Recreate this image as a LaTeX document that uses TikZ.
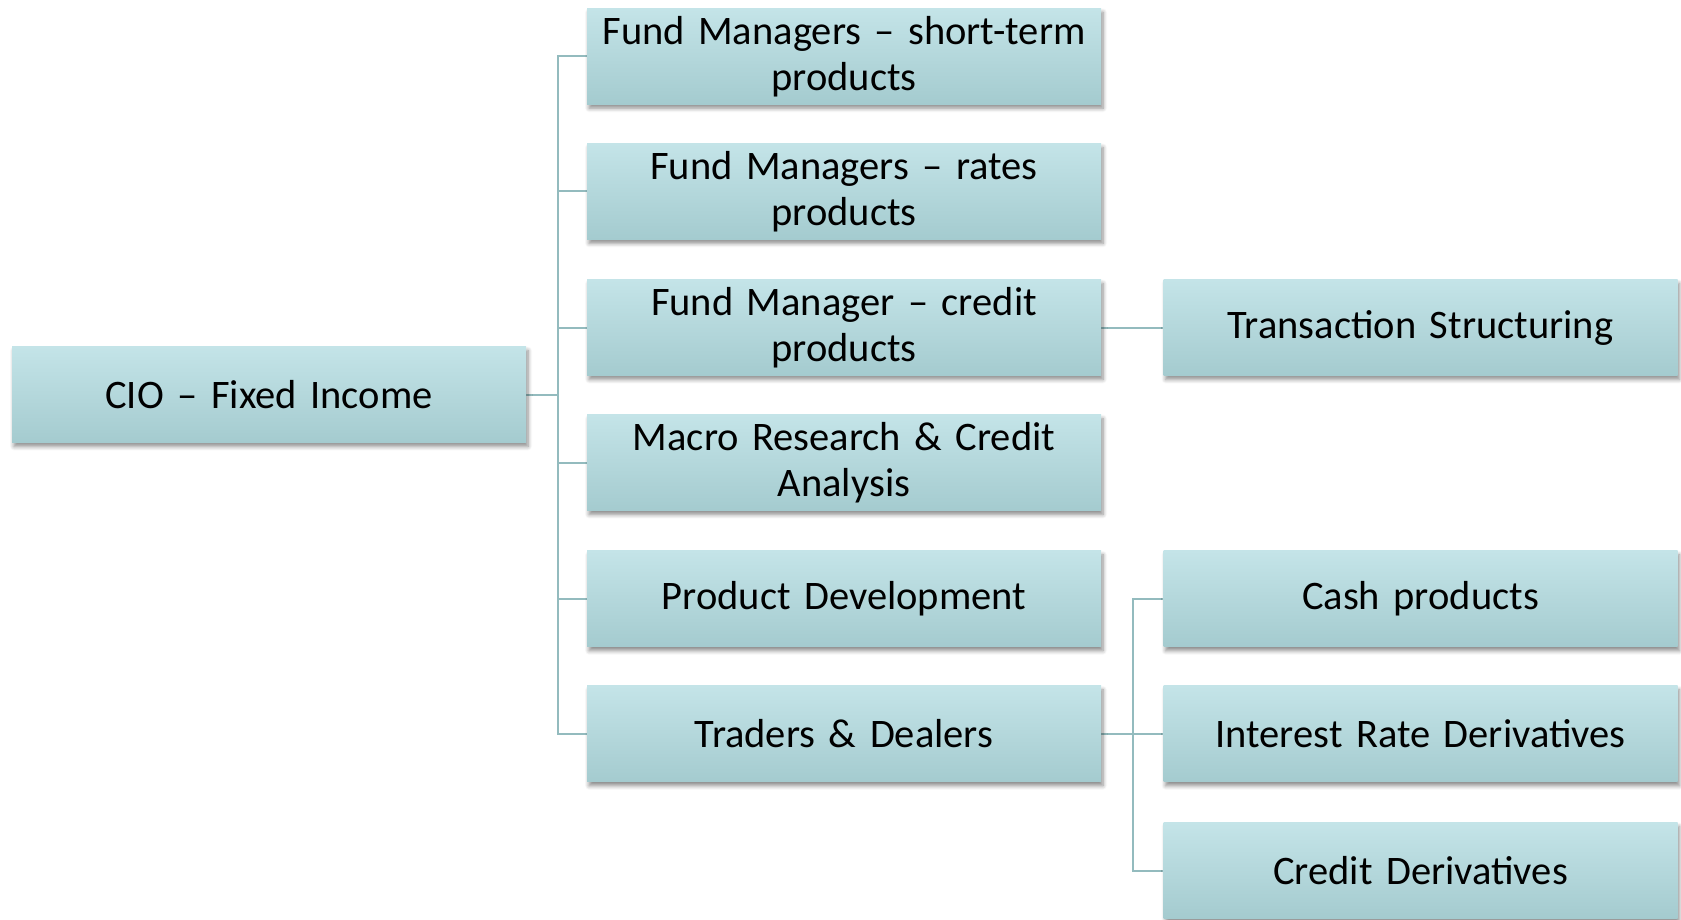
\documentclass[tikz,border=0pt]{standalone}
\usepackage{fontspec}
\setmainfont{Carlito}
\usetikzlibrary{shadows,shadows.blur,calc,backgrounds}
\definecolor{boxtop}{HTML}{C4E4E8}
\definecolor{boxbot}{HTML}{A4CBCF}
\definecolor{conncol}{HTML}{93BBBE}
\begin{document}
\begin{tikzpicture}[x=1pt,y=1pt,
  orgbox/.style={rectangle, minimum width=514pt, minimum height=96pt, inner sep=0pt,
    top color=boxtop, bottom color=boxbot, text width=505pt, align=center,
    font=\fontsize{40.5}{46}\selectfont,
    blur shadow={shadow xshift=2pt, shadow yshift=-4pt, shadow blur steps=6, shadow blur radius=4pt, shadow opacity=45}},
  conn/.style={draw=conncol, line width=2pt}]
\useasboundingbox (0,0) rectangle (1681,-919);
\node[orgbox] (cio) at (269,-394.5) {CIO – Fixed Income};
\node[orgbox] (m1) at (844,-56.3) {Fund Managers – short-term\\products};
\node[orgbox] (m2) at (844,-191.4) {Fund Managers – rates\\products};
\node[orgbox] (m3) at (844,-327.5) {Fund Manager – credit\\products};
\node[orgbox] (m4) at (844,-462.6) {Macro Research \& Credit\\Analysis};
\node[orgbox] (m5) at (844,-598.8) {Product Development};
\node[orgbox] (m6) at (844,-733.8) {Traders \& Dealers};
\node[orgbox] (ts) at (1420.5,-327.5) {Transaction Structuring};
\node[orgbox] (r1) at (1420.5,-598.8) {Cash products};
\node[orgbox] (r2) at (1420.5,-733.8) {Interest Rate Derivatives};
\node[orgbox] (r3) at (1420.5,-870.5) {Credit Derivatives};
\coordinate (t1) at (557.5,-394.5);
\coordinate (t2) at (1133,-733.8);
\begin{scope}[on background layer]
\draw[conn] (cio.east) -- (t1);
\foreach \m in {m1,m2,m3,m4,m5,m6} {\draw[conn] (t1) |- (\m.west);}
\draw[conn] (m3.east) -- (ts.west);
\draw[conn] (m6.east) -- (t2);
\draw[conn] (t2) |- (r1.west);
\draw[conn] (t2) -- (r2.west);
\draw[conn] (t2) |- (r3.west);
\end{scope}
\end{tikzpicture}
\end{document}
